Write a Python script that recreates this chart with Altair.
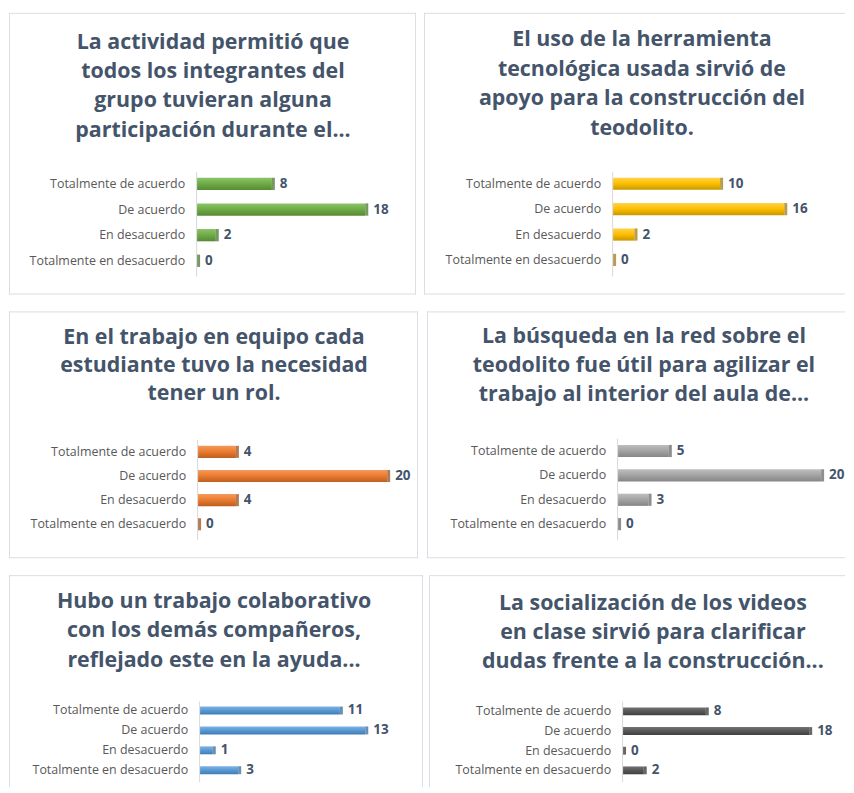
import altair as alt
import pandas as pd

categories = ["Totalmente de acuerdo", "De acuerdo", "En desacuerdo", "Totalmente en desacuerdo"]

titles = [
    "La actividad permitió que\ntodos los integrantes del\ngrupo tuvieran alguna\nparticipación durante el...",
    "El uso de la herramienta\ntecnológica usada sirvió de\napoyo para la construcción del\nteodolito.",
    "En  el trabajo en equipo cada\nestudiante tuvo la necesidad\ntener un rol.",
    "La búsqueda en la red sobre el\nteodolito fue útil para agilizar el\ntrabajo al interior del aula de...",
    "Hubo un trabajo colaborativo\ncon los demás compañeros,\nreflejado este en la ayuda...",
    "La socialización de los videos\nen clase sirvió para clarificar\ndudas frente a la construcción...",
]

values_1 = [8, 18, 2, 0]
values_2 = [10, 16, 2, 0]
values_3 = [4, 20, 4, 0]
values_4 = [5, 20, 3, 0]
values_5 = [11, 13, 1, 3]
values_6 = [8, 18, 0, 2]
all_values = [values_1, values_2, values_3, values_4, values_5, values_6]

colors = ["#70AD47", "#FFC000", "#ED7D31", "#A5A5A5", "#5B9BD5", "#595959"]
lights = ["#8CC46A", "#FFD24D", "#F39A5E", "#BEBEBE", "#7DB3E2", "#737373"]
darks = ["#568A35", "#C99700", "#BD5F1F", "#858585", "#3F7CB5", "#404040"]
caps = ["#3F6B22", "#9A7300", "#8F4310", "#5E5E5E", "#2D5F8F", "#262626"]

# layout per panel (local pixel geometry, not data); sides = borders drawn (top, right, bottom, left)
layout = [
    dict(W=409, H=283, tx=205, tc=30, lh=29.5, x0=189, xe=358, y0=159, y1=262, a0=160, a1=265, pi=0.52, sides=(1, 1, 1, 1)),
    dict(W=423, H=283, tx=219, tc=27, lh=30, x0=190, xe=362, y0=159, y1=261, a0=160, a1=265, pi=0.52, sides=(1, 0, 1, 1)),
    dict(W=411, H=248, tx=206, tc=27, lh=28, x0=190, xe=380, y0=129, y1=226, a0=129, a1=230, pi=0.5, sides=(1, 1, 1, 1)),
    dict(W=420, H=248, tx=218, tc=26, lh=29, x0=192, xe=396, y0=128, y1=226, a0=128, a1=230, pi=0.5, sides=(1, 0, 1, 1)),
    dict(W=416, H=213, tx=206, tc=27, lh=29.5, x0=192, xe=358, y0=126, y1=206, a0=127, a1=208, pi=0.6, sides=(1, 1, 0, 1)),
    dict(W=418, H=213, tx=225, tc=29, lh=29, x0=195, xe=382, y0=127, y1=206, a0=127, a1=208, pi=0.6, sides=(1, 0, 0, 1)),
]

TITLE_COLOR = "#44546A"
LABEL_COLOR = "#595959"
BORDER = "#D9DEE5"
FONT = "Open Sans"


def border_rules(g):
    W, H = g["W"], g["H"]
    one = pd.DataFrame({"a": [0]})
    out = []
    t, r, b, l = g["sides"]
    if t:
        out.append(alt.Chart(one).mark_rule(color=BORDER).encode(
            x=alt.value(0), x2=alt.value(W), y=alt.value(0.5)))
    if b:
        out.append(alt.Chart(one).mark_rule(color=BORDER).encode(
            x=alt.value(0), x2=alt.value(W), y=alt.value(H - 0.5)))
    if l:
        out.append(alt.Chart(one).mark_rule(color=BORDER).encode(
            x=alt.value(0.5), y=alt.value(0), y2=alt.value(H)))
    if r:
        out.append(alt.Chart(one).mark_rule(color=BORDER).encode(
            x=alt.value(W - 0.5), y=alt.value(0), y2=alt.value(H)))
    return out


def panel(i):
    g = layout[i]
    vals = all_values[i]
    df = pd.DataFrame({"cat": categories, "val": vals})
    dmax = max(vals)
    yscale = alt.Scale(domain=categories, range=[g["y0"], g["y1"]],
                       paddingInner=g["pi"], paddingOuter=g["pi"] / 2)
    xscale = alt.Scale(domain=[0, dmax], range=[g["x0"], g["xe"]], nice=False, zero=True)
    step = (g["y1"] - g["y0"]) / 4
    bw = step * (1 - g["pi"])

    grad = alt.Gradient(
        gradient="linear", x1=0, y1=0, x2=0, y2=1,
        stops=[alt.GradientStop(color=lights[i], offset=0),
               alt.GradientStop(color=colors[i], offset=0.45),
               alt.GradientStop(color=darks[i], offset=1)],
    )

    base = alt.Chart(df)
    bars = base.mark_bar(color=grad).encode(
        x=alt.X("val:Q", scale=xscale, axis=None),
        y=alt.Y("cat:N", scale=yscale, axis=None, sort=categories),
    )
    cap = base.mark_tick(color=caps[i], thickness=3, size=bw, xOffset=1.5).encode(
        x="val:Q", y=alt.Y("cat:N", sort=categories)
    )
    vlabels = base.mark_text(align="left", baseline="middle", dx=8, font=FONT,
                             fontWeight="bold", fontSize=13.5, color=TITLE_COLOR).encode(
        x="val:Q", y=alt.Y("cat:N", sort=categories), text="val:Q"
    )
    clabels = base.mark_text(align="right", baseline="middle", font=FONT,
                             fontSize=12.5, color=LABEL_COLOR).encode(
        x=alt.value(g["x0"] - 12), y=alt.Y("cat:N", sort=categories), text="cat:N"
    )
    axis_line = alt.Chart(pd.DataFrame({"a": [0]})).mark_rule(color="#D9D9D9", strokeWidth=1).encode(
        x=alt.value(g["x0"] - 0.5), y=alt.value(g["a0"]), y2=alt.value(g["a1"])
    )
    title = alt.Chart(pd.DataFrame({"t": [titles[i]]})).mark_text(
        align="center", baseline="middle", lineBreak="\n", lineHeight=g["lh"],
        font=FONT, fontWeight="bold", fontSize=21.5, color=TITLE_COLOR
    ).encode(
        x=alt.value(g["tx"]),
        y=alt.value(g["tc"]),
        text="t:N",
    )
    layers = border_rules(g) + [axis_line, bars, cap, vlabels, clabels, title]
    return alt.layer(*layers).properties(width=g["W"], height=g["H"])


row1 = alt.hconcat(panel(0), panel(1), spacing=6)
row2 = alt.hconcat(panel(2), panel(3), spacing=7)
row3 = alt.hconcat(panel(4), panel(5), spacing=4)

chart = alt.vconcat(row1, row2, row3, spacing=15).properties(
    padding={"left": 0, "top": 2, "right": 0, "bottom": 0},
    background="white",
).configure_view(stroke=None).configure_concat(spacing=6)

chart.save("out.html", embed_options={"renderer": "svg", "actions": False})
